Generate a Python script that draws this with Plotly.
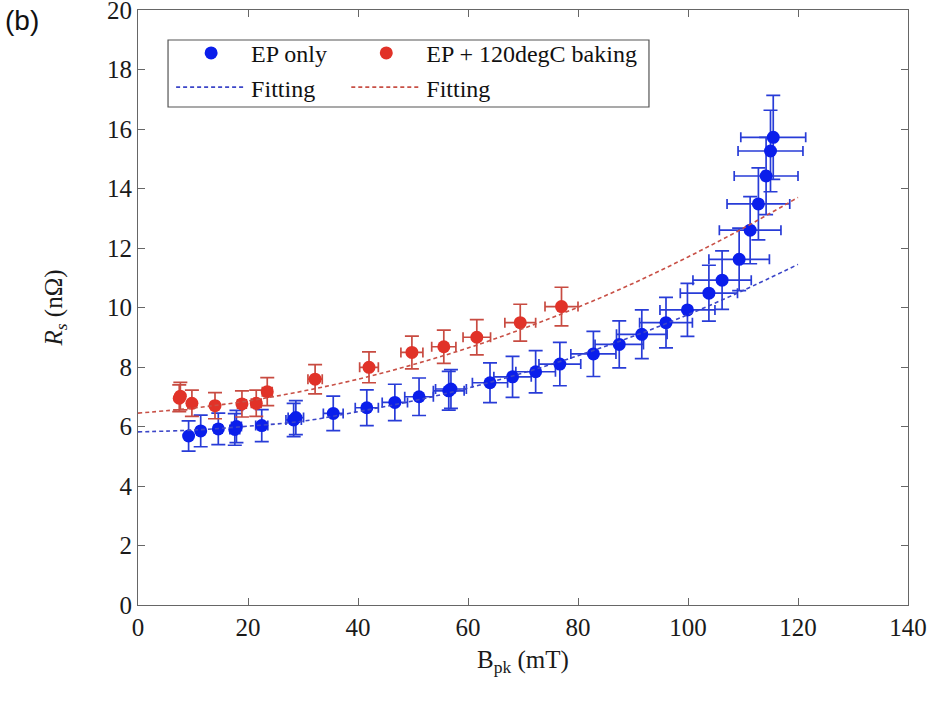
import plotly.graph_objects as go

# ---- data ----
ep_B = [9.2, 11.4, 14.6, 17.6, 17.9, 22.5, 28.3, 28.7, 35.5, 41.6, 46.7, 51.1, 56.5, 56.9,
        64.0, 68.1, 72.3, 76.7, 82.8, 87.5, 91.6, 96.0, 99.9, 103.8, 106.2, 109.3, 111.3,
        112.8, 114.2, 115.0, 115.5]
ep_Rs = [5.68, 5.85, 5.92, 5.90, 6.00, 6.03, 6.22, 6.30, 6.44, 6.63, 6.81, 7.00, 7.20, 7.26,
         7.47, 7.67, 7.84, 8.10, 8.44, 8.76, 9.10, 9.49, 9.92, 10.48, 10.92, 11.62, 12.60,
         13.48, 14.42, 15.26, 15.72]
ep_dRs = [0.51, 0.53, 0.53, 0.53, 0.54, 0.54, 0.56, 0.57, 0.58, 0.60, 0.61, 0.63, 0.65, 0.65,
          0.67, 0.69, 0.71, 0.73, 0.76, 0.79, 0.82, 0.85, 0.89, 0.94, 0.98, 1.05, 1.13,
          1.21, 1.30, 1.37, 1.41]
ep_dB = [0.5, 0.6, 0.7, 0.9, 0.9, 1.1, 1.4, 1.4, 1.8, 2.1, 2.3, 2.6, 2.8, 2.8,
         3.2, 3.4, 3.6, 3.8, 4.1, 4.4, 4.6, 4.8, 5.0, 5.2, 5.3, 5.5, 5.6,
         5.7, 5.8, 5.9, 5.9]

bake_B = [7.5, 7.7, 9.8, 14.0, 18.9, 21.5, 23.5, 32.2, 42.0, 49.8, 55.6, 61.6, 69.5, 77.0]
bake_Rs = [6.95, 7.02, 6.78, 6.70, 6.76, 6.78, 7.17, 7.59, 7.99, 8.49, 8.68, 9.00, 9.49, 10.03]
bake_dRs = [0.45, 0.46, 0.44, 0.44, 0.44, 0.44, 0.47, 0.49, 0.52, 0.55, 0.56, 0.59, 0.62, 0.65]
bake_dB = [0.3, 0.3, 0.4, 0.6, 0.8, 0.9, 0.9, 1.3, 1.7, 2.0, 2.2, 2.5, 2.8, 3.0]

fit_B = [0, 10, 20, 30, 40, 50, 60, 70, 80, 90, 100, 110, 120]
ep_fit = [5.82, 5.88, 6.01, 6.18, 6.50, 6.86, 7.29, 7.80, 8.38, 9.03, 9.76, 10.57, 11.45]
bake_fit = [6.45, 6.62, 6.86, 7.19, 7.59, 8.08, 8.64, 9.29, 10.01, 10.81, 11.70, 12.66, 13.70]

x_ticks = [0, 20, 40, 60, 80, 100, 120, 140]
y_ticks = [0, 2, 4, 6, 8, 10, 12, 14, 16, 18, 20]

BLUE = "rgb(10,30,235)"
BLUE_ERR = "rgb(40,60,215)"
RED = "rgb(225,50,40)"
RED_ERR = "rgb(200,75,65)"
SERIF = "Liberation Serif"

fig = go.Figure()

fig.add_trace(go.Scatter(
    x=ep_B, y=ep_Rs, mode="markers", name="EP only", legend="legend",
    marker=dict(color=BLUE, size=13),
    error_y=dict(type="data", array=ep_dRs, color=BLUE_ERR, thickness=1.7, width=7),
    error_x=dict(type="data", array=ep_dB, color=BLUE_ERR, thickness=1.7, width=5),
))
fig.add_trace(go.Scatter(
    x=bake_B, y=bake_Rs, mode="markers", name="EP + 120degC baking", legend="legend2",
    marker=dict(color=RED, size=13),
    error_y=dict(type="data", array=bake_dRs, color=RED_ERR, thickness=1.7, width=7),
    error_x=dict(type="data", array=bake_dB, color=RED_ERR, thickness=1.7, width=5),
))
fig.add_trace(go.Scatter(
    x=fit_B, y=ep_fit, mode="lines", name="Fitting", line_shape="spline", legend="legend",
    line=dict(color="rgb(60,70,200)", width=1.6, dash="4px,3px"),
))
fig.add_trace(go.Scatter(
    x=fit_B, y=bake_fit, mode="lines", name="Fitting", line_shape="spline", legend="legend2",
    line=dict(color="rgb(200,80,70)", width=1.6, dash="4px,3px"),
))

axis_common = dict(
    showline=True, linecolor="#666", linewidth=1.2, mirror="ticks",
    ticks="inside", ticklen=7, tickcolor="#666", tickwidth=1.2,
    showgrid=False, zeroline=False, ticklabeloverflow="allow", automargin=False,
    tickfont=dict(family=SERIF, size=25, color="#1a1a1a"),
)

legend_common = dict(
    orientation="v", yanchor="top", xanchor="left",
    itemwidth=70, borderwidth=0, bgcolor="rgba(0,0,0,0)",
    font=dict(family=SERIF, size=24, color="#111"),
    tracegroupgap=0, traceorder="normal",
)

fig.update_layout(
    width=933, height=702,
    margin=dict(l=138, r=25, t=10, b=97),
    paper_bgcolor="white", plot_bgcolor="white",
    showlegend=True,
    legend=dict(x=0.043, y=0.965, **legend_common),
    legend2=dict(x=0.2705, y=0.965, **legend_common),
    xaxis=dict(range=[0, 140], tickvals=x_ticks,
               title=dict(text="B<sub>pk</sub> (mT)", standoff=10,
                          font=dict(family=SERIF, size=25, color="#1a1a1a")),
               **axis_common),
    yaxis=dict(range=[0, 20], tickvals=y_ticks,
               title=dict(text="<i>R<sub>s</sub></i> (nΩ)", standoff=37,
                          font=dict(family=SERIF, size=25, color="#1a1a1a")),
               **axis_common),
    shapes=[dict(type="rect", xref="paper", yref="paper",
                 x0=0.039, x1=0.6636, y0=0.837, y1=0.9496,
                 line=dict(color="#555", width=1.2), fillcolor="rgba(0,0,0,0)",
                 layer="above")],
)

fig.add_annotation(text="(b)", xref="paper", yref="paper", x=-0.175, y=1.012,
                   xanchor="left", yanchor="top", showarrow=False,
                   font=dict(family="Liberation Sans", size=28, color="#111"))

fig.write_html("out.html", config={"displayModeBar": False},
               post_script="document.body.style.margin='0px';")
